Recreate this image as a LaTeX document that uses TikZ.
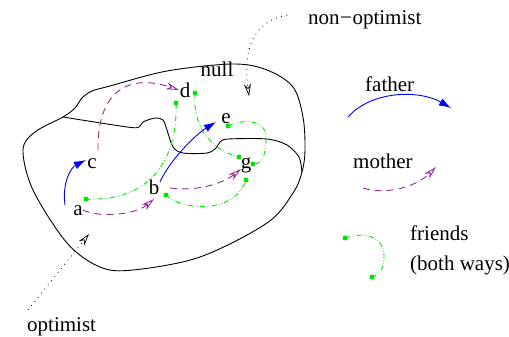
\documentclass[tikz,border=0pt]{standalone}
\usepackage{fontspec}
\setmainfont{Liberation Serif}
\usetikzlibrary{arrows.meta}
\definecolor{fblue}{RGB}{0,0,255}
\definecolor{mpurple}{RGB}{150,40,150}
\definecolor{fgreen}{RGB}{0,230,0}
\tikzset{
  lbl/.style={inner sep=0pt,font=\fontsize{21}{25}\selectfont},
  outline/.style={line width=0.9pt,black},
  father/.style={line width=0.9pt,fblue,-{Latex[length=12pt,width=8pt]}},
  mother/.style={line width=0.9pt,mpurple,dash pattern=on 7pt off 5pt,-{Stealth[open,length=13pt,width=7pt,inset=4pt]}},
  friend/.style={line width=0.9pt,fgreen,dash pattern=on 5pt off 2pt on 0.6pt off 2pt on 0.6pt off 2pt},
  gdot/.style={circle,fill=fgreen,inner sep=0pt,minimum size=5pt},
  pointer/.style={line width=0.8pt,black,dash pattern=on 0.8pt off 4.5pt,-{Stealth[open,length=12pt,width=7pt,inset=4pt,line width=0.7pt]}},
}
\begin{document}
\begin{tikzpicture}[x=1pt,y=-1pt]
\useasboundingbox (0,0) rectangle (509,337);
% outer blob
\draw[outline] plot[smooth cycle,tension=0.55] coordinates {(23,150) (35,132) (63,117) (75,108) (82,98) (92,91) (110,86) (167,71) (233,64) (267,70) (293,87) (303,117) (305,150) (302,172) (293,193) (267,223) (200,257) (133,270) (100,267) (67,243) (33,190)};
% inner line
\draw[outline] plot[smooth,tension=0.5] coordinates {(63,117) (127,127) (139,127) (143,122) (155,118) (163,120) (167,130) (173,147) (183,153) (207,153) (216,148) (220,142) (228,139) (267,139) (287,145) (299,157) (302,172)};
% labels
\node[lbl,anchor=base] (a) at (78,215) {a};
\node[lbl,anchor=base] (b) at (154,194) {b};
\node[lbl,anchor=base] (c) at (92,168) {c};
\node[lbl,anchor=base] (d) at (185,97) {d};
\node[lbl,anchor=base] (e) at (226,123) {e};
\node[lbl,anchor=base] (g) at (246,168) {g};
\node[lbl,anchor=base] (null) at (217,77) {null};
\node[lbl,anchor=base west] (nonopt) at (308,25) {non\kern0.5pt−\kern0.5pt optimist};
\node[lbl,anchor=base west] (opt) at (27,331) {optimist};
\node[lbl,anchor=base west] (fatherlbl) at (365,92) {father};
\node[lbl,anchor=base west] (motherlbl) at (353,168) {mother};
\node[lbl,anchor=base west] (friendslbl) at (410,240) {friends};
\node[lbl,anchor=base west] (bothlbl) at (410,270) {(both ways)};
% green dots
\node[gdot] (ga) at (86,199) {};
\node[gdot] (gb) at (166,195) {};
\node[gdot] (gd1) at (176,103) {};
\node[gdot] (gd2) at (195,93) {};
\node[gdot] (ge) at (228,126) {};
\node[gdot] (gg1) at (239,157) {};
\node[gdot] (gg2) at (253,164) {};
\node[gdot] (gg3) at (246,180) {};
\node[gdot] (gl1) at (345,238) {};
\node[gdot] (gl2) at (372,277) {};
% friend links
\draw[friend] (ga.center) .. controls (150,202) and (178,160) .. (gd1.center);
\draw[friend] (gd2.center) .. controls (192,125) and (210,150) .. (gg1.center);
\draw[friend] (ge.center) .. controls (245,118) and (268,120) .. (266,140) .. controls (265,158) and (262,164) .. (gg2.center);
\draw[friend] (gb.center) .. controls (180,210) and (235,215) .. (gg3.center);
\draw[friend] (gl1.center) .. controls (370,230) and (385,240) .. (384,258) .. controls (384,268) and (380,275) .. (gl2.center);
% arrow end coordinates
\coordinate (fa0) at (65,205);  \coordinate (fc) at (86,160);
\coordinate (fb0) at (160,182); \coordinate (fe) at (216,122);
\coordinate (ma0) at (83,210);  \coordinate (mb) at (154,199);
\coordinate (mc0) at (98,150);  \coordinate (md) at (179,90);
\coordinate (mb0) at (170,188); \coordinate (mg) at (241,169);
\coordinate (lf0) at (348,117); \coordinate (lf1) at (451,108);
\coordinate (lm0) at (363,188); \coordinate (lm1) at (436,167);
\coordinate (nn0) at (287,15);  \coordinate (nn1) at (249,96);
\coordinate (op0) at (28,310);  \coordinate (op1) at (89,234);
% father
\draw[father] (fa0) .. controls (62,185) and (70,168) .. (fc);
\draw[father] (fb0) .. controls (170,160) and (195,135) .. (fe);
\draw[father] (lf0) .. controls (372,90) and (420,90) .. (lf1);
% mother
\draw[mother] (ma0) .. controls (100,218) and (135,215) .. (mb);
\draw[mother] (mc0) .. controls (97,95) and (125,72) .. (md);
\draw[mother] (mb0) .. controls (200,192) and (225,182) .. (mg);
\draw[mother] (lm0) .. controls (385,195) and (415,188) .. (lm1);
% pointers
\draw[pointer] (nn0) .. controls (252,22) and (243,50) .. (nn1);
\draw[pointer] (op0) -- (op1);
\end{tikzpicture}
\end{document}
